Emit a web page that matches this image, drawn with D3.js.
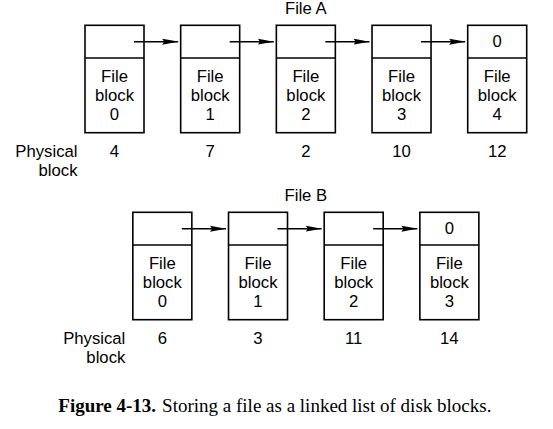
<!DOCTYPE html>
<html>
<head>
<meta charset="utf-8">
<script src="https://cdn.jsdelivr.net/npm/d3@7"></script>
<style>
  body { margin: 0; background: #fff; }
  .label { font-family: "Liberation Sans", Arial, Helvetica, sans-serif; font-size: 16.7px; fill: #000; }
  .caption { font-family: "Liberation Serif", "Times New Roman", serif; font-size: 19px; fill: #000; }
</style>
</head>
<body>
<div id="chart"></div>
<script>
// data for the two linked lists
const fileA_blocks = [0, 1, 2, 3, 4];
const fileA_physical = [4, 7, 2, 10, 12];
const fileB_blocks = [0, 1, 2, 3];
const fileB_physical = [6, 3, 11, 14];
const files = ["File A", "File B"];
const endMarker = "0";
const captionBold = "Figure 4-13.";
const captionText = "Storing a file as a linked list of disk blocks.";

const width = 553;
const height = 429;

const svg = d3.select("#chart")
    .append("svg")
    .attr("width", width)
    .attr("height", height);

// half-step slots: file A uses even slots, file B odd slots
const xScale = d3.scaleLinear()
    .domain([0, 8])
    .range([85, 467.7]);

// vertical position of each file row
const yScale = d3.scaleOrdinal()
    .domain(files)
    .range([25.3, 212.3]);

const boxW = 59;
const ptrH = 32.7;
const dataH = 74.7;

svg.append("defs").append("marker")
    .attr("id", "head")
    .attr("viewBox", "0 0 16 8")
    .attr("refX", 16)
    .attr("refY", 4)
    .attr("markerWidth", 16)
    .attr("markerHeight", 8)
    .attr("markerUnits", "userSpaceOnUse")
    .attr("orient", "auto")
    .append("path")
    .attr("d", "M0,1 L16,4 L0,7 L2,4 Z")
    .attr("fill", "#000");

function drawFile(name, blocks, physical, offset) {
    const top = yScale(name);
    const left = i => xScale(2 * i + offset);
    const g = svg.append("g");

    // title sits over the centre of the figure
    g.append("text")
        .attr("class", "label")
        .attr("text-anchor", "middle")
        .attr("x", xScale(4) + boxW / 2)
        .attr("y", top - 11.5)
        .text(name);

    const cells = g.selectAll(".cell")
        .data(blocks)
        .enter()
        .append("g")
        .attr("class", "cell")
        .attr("transform", (d, i) => `translate(${left(i)},${top})`);

    cells.append("rect")
        .attr("width", boxW)
        .attr("height", ptrH + dataH)
        .attr("fill", "none")
        .attr("stroke", "#000")
        .attr("stroke-width", 1.6);

    cells.append("line")
        .attr("x1", 0)
        .attr("x2", boxW)
        .attr("y1", ptrH)
        .attr("y2", ptrH)
        .attr("stroke", "#000")
        .attr("stroke-width", 1.6);

    cells.append("text")
        .attr("class", "label")
        .attr("text-anchor", "middle")
        .attr("x", boxW / 2)
        .selectAll("tspan")
        .data(d => ["File", "block", d])
        .enter()
        .append("tspan")
        .attr("x", boxW / 2)
        .attr("y", (d, i) => ptrH + 24 + i * 18.8)
        .text(d => d);

    // last block holds the end marker
    cells.filter((d, i) => i === blocks.length - 1)
        .append("text")
        .attr("class", "label")
        .attr("text-anchor", "middle")
        .attr("x", boxW / 2)
        .attr("y", 21.4)
        .text(endMarker);

    // pointers to the next block
    g.selectAll(".ptr")
        .data(blocks.slice(0, -1))
        .enter()
        .append("line")
        .attr("class", "ptr")
        .attr("x1", (d, i) => left(i) + boxW / 2 + 19.5)
        .attr("x2", (d, i) => left(i + 1) - 2.5)
        .attr("y1", top + ptrH / 2)
        .attr("y2", top + ptrH / 2)
        .attr("stroke", "#000")
        .attr("stroke-width", 1.5)
        .attr("marker-end", "url(#head)");

    // physical block numbers
    const yPhys = top + ptrH + dataH + 24.5;
    g.append("text")
        .attr("class", "label")
        .attr("text-anchor", "end")
        .attr("x", left(0) - 7.5)
        .selectAll("tspan")
        .data(["Physical", "block"])
        .enter()
        .append("tspan")
        .attr("x", left(0) - 7.5)
        .attr("y", (d, i) => yPhys + i * 18.5)
        .text(d => d);

    g.selectAll(".phys")
        .data(physical)
        .enter()
        .append("text")
        .attr("class", "label phys")
        .attr("text-anchor", "middle")
        .attr("x", (d, i) => left(i) + boxW / 2)
        .attr("y", yPhys)
        .text(d => d);
}

drawFile(files[0], fileA_blocks, fileA_physical, 0);
drawFile(files[1], fileB_blocks, fileB_physical, 1);

// caption
const caption = svg.append("text")
    .attr("class", "caption")
    .attr("x", 58.3)
    .attr("y", 412);
caption.append("tspan")
    .attr("font-weight", "bold")
    .text(captionBold);
caption.append("tspan")
    .attr("dx", 6)
    .text(captionText);
</script>
</body>
</html>
